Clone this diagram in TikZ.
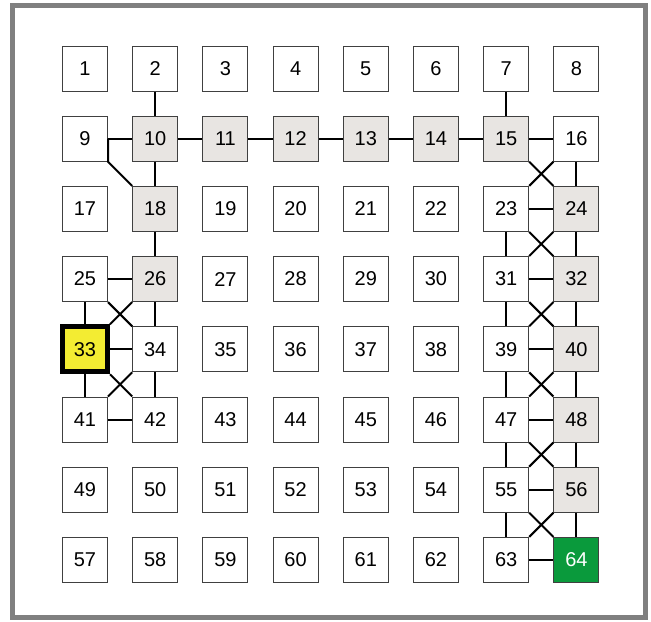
\documentclass[tikz,border=0pt]{standalone}
\usepackage{fontspec}
\setmainfont{Liberation Sans}
\definecolor{framegray}{HTML}{808080}
\definecolor{visitgray}{HTML}{E8E5E2}
\definecolor{startyellow}{HTML}{F3EC32}
\definecolor{goalgreen}{HTML}{0A9A3C}
\begin{document}
\begin{tikzpicture}[x=0.75pt, y=-0.75pt,
  cell/.style={draw=black!75, line width=0.75pt, fill=white, minimum size=33.75pt,
    inner sep=0pt, font=\fontsize{15}{18}\selectfont},
  visited/.style={fill=visitgray},
  start/.style={fill=startyellow, draw=black, line width=3.75pt},
  goal/.style={fill=goalgreen, text=white},
  link/.style={line width=1.5pt},
  sq10/.style=visited, sq11/.style=visited, sq12/.style=visited, sq13/.style=visited,
  sq14/.style=visited, sq15/.style=visited, sq18/.style=visited, sq26/.style=visited,
  sq24/.style=visited, sq32/.style=visited, sq40/.style=visited, sq48/.style=visited,
  sq56/.style=visited, sq33/.style=start, sq64/.style=goal]
  % frame
  \useasboundingbox (0,0) rectangle (651,622);
  \draw[line width=3.75pt, framegray] (12.5,5.5) rectangle (645.5,617.5);

  % grid of squares
  \foreach \i in {1,...,64} {
    \pgfmathtruncatemacro{\row}{(\i-1)/8}
    \pgfmathtruncatemacro{\col}{\i-1-8*\row}
    \node[cell, sq\i/.try] (n\i) at ({85+70.2*\col},{68.5+70.2*\row}) {\i};
  }

  % straight links
  \foreach \a/\b in {9/10, 10/11, 11/12, 12/13, 13/14, 14/15, 15/16, 25/26, 33/34,
    41/42, 23/24, 31/32, 39/40, 47/48, 55/56, 63/64, 2/10, 7/15, 10/18, 18/26,
    25/33, 26/34, 33/41, 34/42, 16/24, 23/31, 24/32, 31/39, 32/40, 39/47, 40/48,
    47/55, 48/56, 55/63, 56/64}
    \draw[link] (n\a) -- (n\b);
  \draw[link] (n9.east) -- (n9.south east) -- (n18.north west);

  % diagonal crossings
  \foreach \t in {25, 33, 15, 23, 31, 39, 47, 55} {
    \pgfmathtruncatemacro{\tr}{\t+1}
    \pgfmathtruncatemacro{\bl}{\t+8}
    \pgfmathtruncatemacro{\br}{\t+9}
    \draw[link] (n\t.south east) -- (n\br.north west);
    \draw[link] (n\tr.south west) -- (n\bl.north east);
  }
\end{tikzpicture}
\end{document}
